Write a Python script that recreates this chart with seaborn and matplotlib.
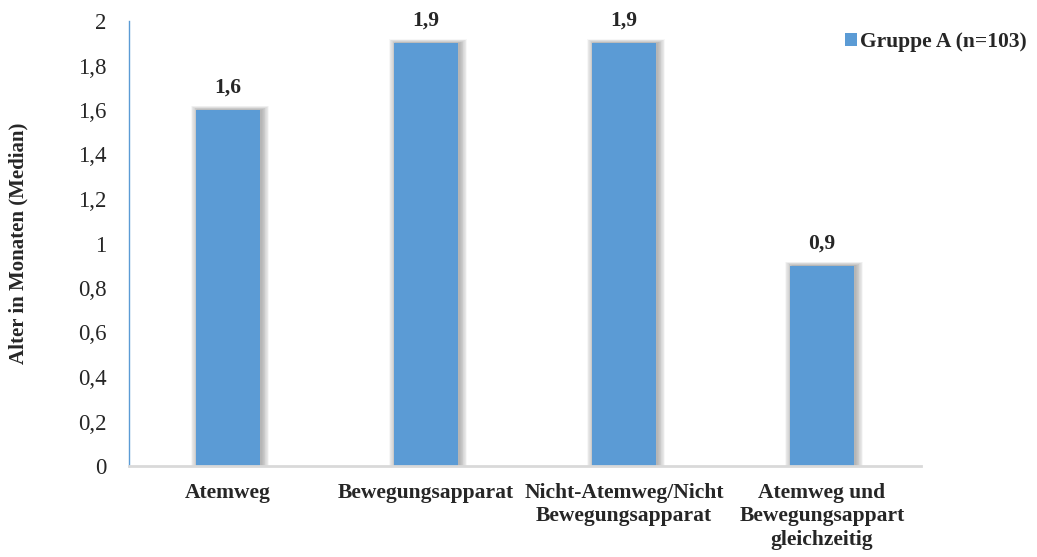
import matplotlib
matplotlib.use("Agg")
import matplotlib.pyplot as plt
import seaborn as sns
import pandas as pd
import numpy as np

categories = [
    "Atemweg",
    "Bewegungsapparat",
    "Nicht-Atemweg/Nicht\nBewegungsapparat",
    "Atemweg und\nBewegungsappart\ngleichzeitig",
]
median_age = [1.6, 1.9, 1.9, 0.9]
value_labels = ["1,6", "1,9", "1,9", "0,9"]
series_name = "Gruppe A (n=103)"
y_ticks = [0, 0.2, 0.4, 0.6, 0.8, 1.0, 1.2, 1.4, 1.6, 1.8, 2.0]
y_tick_labels = ["0", "0,2", "0,4", "0,6", "0,8", "1", "1,2", "1,4", "1,6", "1,8", "2"]
y_label = "Alter in Monaten (Median)"

bar_color = "#5B9BD5"
axis_blue = "#5B9BD5"

sns.set_style("white")
plt.rcParams["font.family"] = ["Liberation Serif", "DejaVu Serif"]

df = pd.DataFrame({"Kategorie": categories, "Wert": median_age, "Gruppe": series_name})

W, H = 1037, 557
fig = plt.figure(figsize=(W / 100, H / 100), dpi=100)
ax = fig.add_axes([129 / W, (H - 466) / H, 792 / W, 445 / H])

bar_width = 0.32
sns.barplot(data=df, x="Kategorie", y="Wert", hue="Gruppe", palette=[bar_color],
            width=bar_width, ax=ax, zorder=3, saturation=1, dodge=False,
            linewidth=0, edgecolor="none")

# soft shadow behind the bars, slightly shifted to the right
xs = np.arange(len(categories))
px_x = 4.0 / 792.0   # data units per pixel along x
px_y = 2.0 / 445.0   # data units per pixel along y
vals = np.array(median_age)
for k in range(1, 11):
    ax.bar(xs + px_x * 2.0, vals + px_y * k * 0.4,
           width=bar_width + 2 * px_x * k * 0.75, color="black",
           alpha=0.03, zorder=2, linewidth=0)

ax.set_xlim(-0.5, 3.5)
ax.set_ylim(0, 2.0)
ax.set_yticks(y_ticks)
ax.set_yticklabels(y_tick_labels, fontsize=16.5)
ax.set_xticks(xs)
ax.set_xticklabels(categories, fontsize=15.5, fontweight="bold", linespacing=1.25)
ax.set_xlabel("")
ax.set_ylabel(y_label, fontsize=15, fontweight="bold", labelpad=36)

for s in ["top", "right"]:
    ax.spines[s].set_visible(False)
ax.spines["left"].set_color(axis_blue)
ax.spines["left"].set_linewidth(1.0)
ax.spines["bottom"].set_color("#d9d9d9")
ax.spines["bottom"].set_linewidth(2.0)
ax.spines["bottom"].set_zorder(4)

ax.tick_params(axis="y", direction="in", length=4, width=1, color=axis_blue, pad=16)
ax.tick_params(axis="x", length=0, pad=12)

for x, v, lab in zip(xs, median_age, value_labels):
    ax.annotate(lab, (x, v), xytext=(0, 9), textcoords="offset points",
                ha="center", va="bottom", fontsize=15.5, fontweight="bold", color="#262626")

handles, _ = ax.get_legend_handles_labels()
ax.legend(handles, [series_name], loc="upper left",
          bbox_to_anchor=(845 / W, 1 - 32 / H), bbox_transform=fig.transFigure,
          frameon=False, borderpad=0, borderaxespad=0,
          handlelength=0.55, handleheight=0.55, handletextpad=0.15,
          prop={"weight": "bold", "size": 15.5, "family": "Liberation Serif"})

fig.savefig("out.png", dpi=100, facecolor="white")
